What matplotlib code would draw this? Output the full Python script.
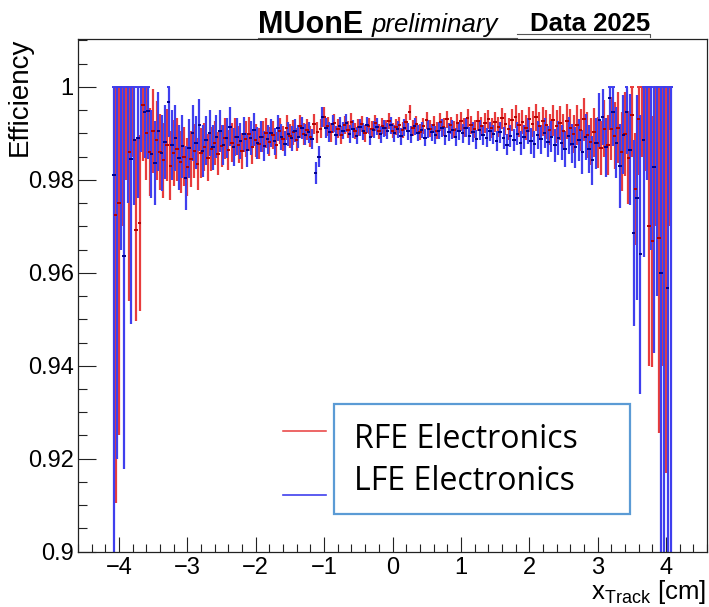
import numpy as np
import matplotlib
matplotlib.use("Agg")
import matplotlib.pyplot as plt
from matplotlib.ticker import MultipleLocator, FormatStrFormatter
from matplotlib.lines import Line2D
from matplotlib.patches import Rectangle

plt.rcParams['font.family'] = ['Liberation Sans', 'DejaVu Sans']
plt.rcParams['mathtext.fontset'] = 'custom'
plt.rcParams['mathtext.rm'] = 'Liberation Sans'
plt.rcParams['mathtext.it'] = 'Liberation Sans:italic'

# ---------------- data ----------------
bin_width = 0.05
lfe_x_first = -4.075
rfe_x_first = -4.050
n_bins = 164

# LFE electronics (blue)
lfe_eff = [
    0.9810, 1.0000, 1.0000, 0.9637, 1.0000, 0.9845, 0.9886, 0.9890, 1.0000, 0.9946, 0.9949, 0.9855,
    0.9836, 0.9905, 0.9858, 0.9882, 0.9967, 0.9875, 0.9890, 0.9848, 0.9872, 0.9804, 0.9868, 0.9900,
    0.9880, 0.9918, 0.9862, 0.9885, 0.9901, 0.9870, 0.9893,
    0.9905, 0.9875, 0.9889, 0.9914, 0.9870, 0.9893, 0.9884, 0.9898, 0.9864, 0.9890, 0.9908, 0.9879,
    0.9893, 0.9872, 0.9887, 0.9900, 0.9883, 0.9911, 0.9892, 0.9878, 0.9899, 0.9889, 0.9906, 0.9893,
    0.9912, 0.9897, 0.9902, 0.9888, 0.9814, 0.9850,
    0.9935, 0.9912, 0.9903, 0.9920, 0.9896, 0.9915, 0.9906, 0.9922, 0.9899, 0.9910, 0.9895, 0.9913,
    0.9904, 0.9918, 0.9893, 0.9908, 0.9914, 0.9898, 0.9911, 0.9905, 0.9917, 0.9900,
    0.9909, 0.9894, 0.9912, 0.9904, 0.9897, 0.9915, 0.9901, 0.9907, 0.9891, 0.9910, 0.9902, 0.9896,
    0.9906, 0.9911, 0.9895, 0.9903, 0.9908, 0.9892, 0.9905, 0.9900, 0.9912, 0.9894, 0.9903, 0.9887,
    0.9907, 0.9896, 0.9891, 0.9904,
    0.9898, 0.9883, 0.9902, 0.9890, 0.9876, 0.9895, 0.9885, 0.9899, 0.9880, 0.9893, 0.9905, 0.9884,
    0.9877, 0.9896, 0.9887, 0.9901, 0.9882, 0.9893, 0.9874, 0.9890, 0.9880, 0.9866, 0.9895, 0.9878,
    0.9870,
    0.9885, 0.9860, 0.9892, 0.9866, 0.9842, 0.9879, 0.9928, 0.9935, 0.9870, 0.9975, 0.9945, 0.9880,
    0.9830, 0.9897,
    0.9945, 0.9865, 0.9685, 0.9762, 0.9640, 0.9885, 1.0000, 1.0000, 0.9827, 1.0000, 0.9600, 1.0000,
    0.9567, 1.0000,
]
lfe_err = [
    0.0900, 0.0800, 0.0350, 0.0460, 0.0250, 0.0355, 0.0140, 0.0130, 0.0140, 0.0100, 0.0105, 0.0095,
    0.0090, 0.0085, 0.0082, 0.0080, 0.0074, 0.0076, 0.0071, 0.0069, 0.0067, 0.0068, 0.0063, 0.0060,
    0.0057, 0.0055, 0.0055, 0.0052, 0.0050, 0.0048, 0.0046,
    0.0045, 0.0044, 0.0043, 0.0042, 0.0041, 0.0040, 0.0039, 0.0038, 0.0037, 0.0036, 0.0035, 0.0034,
    0.0033, 0.0032, 0.0031, 0.0030, 0.0029, 0.0028, 0.0028, 0.0027, 0.0026, 0.0026, 0.0025, 0.0024,
    0.0024, 0.0023, 0.0023, 0.0022, 0.0024, 0.0022,
    0.0022, 0.0021, 0.0021, 0.0020, 0.0020, 0.0020, 0.0019, 0.0019, 0.0019, 0.0019, 0.0018, 0.0018,
    0.0018, 0.0018, 0.0018, 0.0018, 0.0018, 0.0018, 0.0018, 0.0018, 0.0018, 0.0018,
    0.0018, 0.0018, 0.0018, 0.0018, 0.0018, 0.0018, 0.0018, 0.0018, 0.0019, 0.0019, 0.0019, 0.0019,
    0.0019, 0.0019, 0.0019, 0.0019, 0.0020, 0.0020, 0.0020, 0.0020, 0.0020, 0.0020, 0.0021, 0.0021,
    0.0021, 0.0021, 0.0021, 0.0021,
    0.0021, 0.0022, 0.0022, 0.0023, 0.0023, 0.0024, 0.0024, 0.0025, 0.0026, 0.0026, 0.0027, 0.0028,
    0.0029, 0.0030, 0.0031, 0.0032, 0.0033, 0.0034, 0.0035, 0.0036, 0.0038, 0.0039, 0.0040, 0.0042,
    0.0044,
    0.0045, 0.0047, 0.0049, 0.0051, 0.0053, 0.0055, 0.0058, 0.0061, 0.0064, 0.0068, 0.0072, 0.0076,
    0.0090, 0.0085,
    0.0090, 0.0120, 0.0200, 0.0220, 0.0300, 0.0250, 0.0200, 0.0350, 0.0400, 0.0450, 0.0700, 0.1000,
    0.0600, 0.1000,
]

# RFE electronics (red)
rfe_eff = [
    0.9724, 0.9750, 1.0000, 1.0000, 0.9860, 1.0000, 0.9692, 0.9707, 0.9960, 0.9900, 0.9860, 0.9905,
    0.9885, 0.9860, 0.9842, 0.9875, 0.9830, 0.9858, 0.9866, 0.9838, 0.9850, 0.9828, 0.9845, 0.9862,
    0.9835, 0.9858, 0.9870, 0.9848, 0.9866, 0.9880, 0.9856,
    0.9872, 0.9889, 0.9865, 0.9880, 0.9893, 0.9876, 0.9862, 0.9888, 0.9898, 0.9870, 0.9885, 0.9878,
    0.9893, 0.9901, 0.9882, 0.9896, 0.9874, 0.9905, 0.9888, 0.9912, 0.9895, 0.9902, 0.9886, 0.9915,
    0.9898, 0.9908, 0.9893, 0.9920, 0.9902, 0.9910,
    0.9935, 0.9915, 0.9902, 0.9922, 0.9910, 0.9897, 0.9918, 0.9908, 0.9925, 0.9905, 0.9913, 0.9920,
    0.9900, 0.9916, 0.9909, 0.9923, 0.9904, 0.9915, 0.9911, 0.9926, 0.9906, 0.9914,
    0.9918, 0.9907, 0.9925, 0.9945, 0.9912, 0.9920, 0.9903, 0.9916, 0.9928, 0.9910, 0.9919, 0.9906,
    0.9924, 0.9913, 0.9930, 0.9917, 0.9908, 0.9922, 0.9926, 0.9912, 0.9933, 0.9918, 0.9909, 0.9927,
    0.9915, 0.9922, 0.9930, 0.9912,
    0.9925, 0.9914, 0.9932, 0.9920, 0.9910, 0.9928, 0.9936, 0.9918, 0.9924, 0.9912, 0.9930, 0.9921,
    0.9935, 0.9916, 0.9926, 0.9919, 0.9908, 0.9928, 0.9915, 0.9922, 0.9905, 0.9926, 0.9912, 0.9898,
    0.9918,
    0.9908, 0.9930, 0.9896, 0.9882, 0.9902, 0.9880, 0.9868, 0.9910, 0.9875, 0.9910, 0.9895, 0.9912,
    0.9860, 0.9898,
    0.9848, 0.9940, 0.9780, 0.9930, 1.0000, 1.0000, 0.9700, 0.9668, 1.0000, 0.9675, 1.0000, 1.0000,
    1.0000, np.nan,
]
rfe_err = [
    0.0620, 0.0500, 0.0300, 0.0200, 0.0320, 0.0150, 0.0195, 0.0190, 0.0120, 0.0100, 0.0095, 0.0090,
    0.0085, 0.0082, 0.0080, 0.0077, 0.0074, 0.0071, 0.0068, 0.0066, 0.0064, 0.0062, 0.0060, 0.0058,
    0.0056, 0.0054, 0.0052, 0.0050, 0.0048, 0.0047, 0.0046,
    0.0045, 0.0044, 0.0043, 0.0042, 0.0041, 0.0040, 0.0039, 0.0038, 0.0037, 0.0036, 0.0035, 0.0034,
    0.0033, 0.0032, 0.0031, 0.0030, 0.0029, 0.0028, 0.0027, 0.0027, 0.0026, 0.0026, 0.0025, 0.0024,
    0.0024, 0.0023, 0.0023, 0.0022, 0.0022, 0.0021,
    0.0021, 0.0021, 0.0020, 0.0020, 0.0020, 0.0019, 0.0019, 0.0019, 0.0018, 0.0018, 0.0018, 0.0018,
    0.0018, 0.0018, 0.0017, 0.0017, 0.0017, 0.0017, 0.0017, 0.0017, 0.0017, 0.0017,
    0.0017, 0.0017, 0.0017, 0.0017, 0.0017, 0.0018, 0.0018, 0.0018, 0.0018, 0.0018, 0.0018, 0.0018,
    0.0019, 0.0019, 0.0019, 0.0019, 0.0019, 0.0019, 0.0020, 0.0020, 0.0020, 0.0020, 0.0020, 0.0021,
    0.0021, 0.0021, 0.0021, 0.0022,
    0.0022, 0.0022, 0.0023, 0.0023, 0.0024, 0.0024, 0.0025, 0.0025, 0.0026, 0.0027, 0.0027, 0.0028,
    0.0029, 0.0030, 0.0031, 0.0032, 0.0033, 0.0034, 0.0035, 0.0036, 0.0037, 0.0038, 0.0040, 0.0041,
    0.0043,
    0.0045, 0.0047, 0.0049, 0.0051, 0.0053, 0.0055, 0.0058, 0.0061, 0.0064, 0.0068, 0.0072, 0.0076,
    0.0085, 0.0090,
    0.0100, 0.0090, 0.0120, 0.0120, 0.0150, 0.0180, 0.0300, 0.0270, 0.0300, 0.0420, 0.0600, 0.0830,
    0.0300, np.nan,
]

legend_labels = ["RFE Electronics", "LFE Electronics"]
x_ticks = [-4, -3, -2, -1, 0, 1, 2, 3, 4]
y_ticks = [0.9, 0.92, 0.94, 0.96, 0.98, 1.0]

# ---------------- figure ----------------
W, H = 709, 607
fig = plt.figure(figsize=(W / 100, H / 100), dpi=100)


def fx(px):
    return px / W


def fy(py):
    return 1 - py / H


ax = fig.add_axes([fx(78), fy(551.7), fx(707) - fx(78), fy(39) - fy(551.7)])
ax.set_xlim(-4.6, 4.6)
ax.set_ylim(0.9, 1.0103)


def draw_series(x_first, eff, err, bar_color, dash_color):
    eff = np.asarray(eff, dtype=float)
    err = np.asarray(err, dtype=float)
    centers = x_first + bin_width * np.arange(n_bins)
    ok = ~np.isnan(eff)
    c = centers[ok]
    e = eff[ok]
    lo = err[ok]
    hi = np.minimum(err[ok], 1.0 - e)
    ax.vlines(c, e - lo, e + hi, colors=bar_color, linewidth=1.6, zorder=2)
    ax.hlines(e, c - bin_width / 2, c + bin_width / 2, colors=dash_color, linewidth=1.4, zorder=3)
    top = (e + hi) >= 0.99999
    ax.hlines(np.ones(top.sum()), c[top] - bin_width / 2, c[top] + bin_width / 2,
              colors=bar_color, linewidth=1.4, zorder=3)


draw_series(rfe_x_first, rfe_eff, rfe_err, '#e83c3c', '#b00000')
draw_series(lfe_x_first, lfe_eff, lfe_err, '#3f3fee', '#00008c')

# axes style (ROOT like)
for s in ax.spines.values():
    s.set_linewidth(0.9)
    s.set_color('#222222')

ax.set_xticks(x_ticks)
ax.set_yticks(y_ticks)
ax.xaxis.set_minor_locator(MultipleLocator(0.2))
ax.yaxis.set_minor_locator(MultipleLocator(0.005))
ax.yaxis.set_major_formatter(FormatStrFormatter('%g'))
ax.tick_params(axis='both', which='both', direction='in', top=False, right=False,
               width=0.8, color='#222222', labelsize=17)
ax.tick_params(axis='y', which='major', length=13, pad=3)
ax.tick_params(axis='y', which='minor', length=6.5)
ax.tick_params(axis='x', which='major', length=11, pad=3.5)
ax.tick_params(axis='x', which='minor', length=5.5)

# axis titles
fig.text(fx(20), fy(38), 'Efficiency', rotation=90, ha='center', va='top', fontsize=20)
fig.text(fx(706), fy(599), r'x$_{\mathrm{Track}}$ [cm]', ha='right', va='baseline', fontsize=18.5)

# header
fig.text(fx(258), fy(33.3), 'MUonE', fontsize=22, fontweight='bold', ha='left', va='baseline')
fig.text(fx(372), fy(31.7), 'preliminary', fontsize=18.5, fontstyle='italic', ha='left', va='baseline')
fig.text(fx(530), fy(30.7), 'Data 2025', fontsize=18.5, fontweight='bold', ha='left', va='baseline')
fig.add_artist(Line2D([fx(258), fx(517)], [fy(37.5), fy(37.5)], color='#555555', lw=0.8))
fig.add_artist(Line2D([fx(517), fx(650), fx(650)], [fy(33.5), fy(33.5), fy(36.5)], color='#555555', lw=0.8))

# legend
fig.add_artist(Line2D([fx(283), fx(326)], [fy(430.7), fy(430.7)], color='#e83c3c', lw=1.1))
fig.add_artist(Line2D([fx(283), fx(326)], [fy(495), fy(495)], color='#3f3fee', lw=1.2))
fig.add_artist(Rectangle((fx(333.5), fy(514)), fx(630) - fx(333.5), fy(404) - fy(514),
                         fill=False, edgecolor='#5b9bd5', lw=1.6, transform=fig.transFigure))
fig.text(fx(354), fy(439), legend_labels[0], fontsize=23, family=['Open Sans', 'DejaVu Sans'],
         ha='left', va='center')
fig.text(fx(354), fy(482), legend_labels[1], fontsize=23, family=['Open Sans', 'DejaVu Sans'],
         ha='left', va='center')

fig.savefig('out.png', dpi=100)
